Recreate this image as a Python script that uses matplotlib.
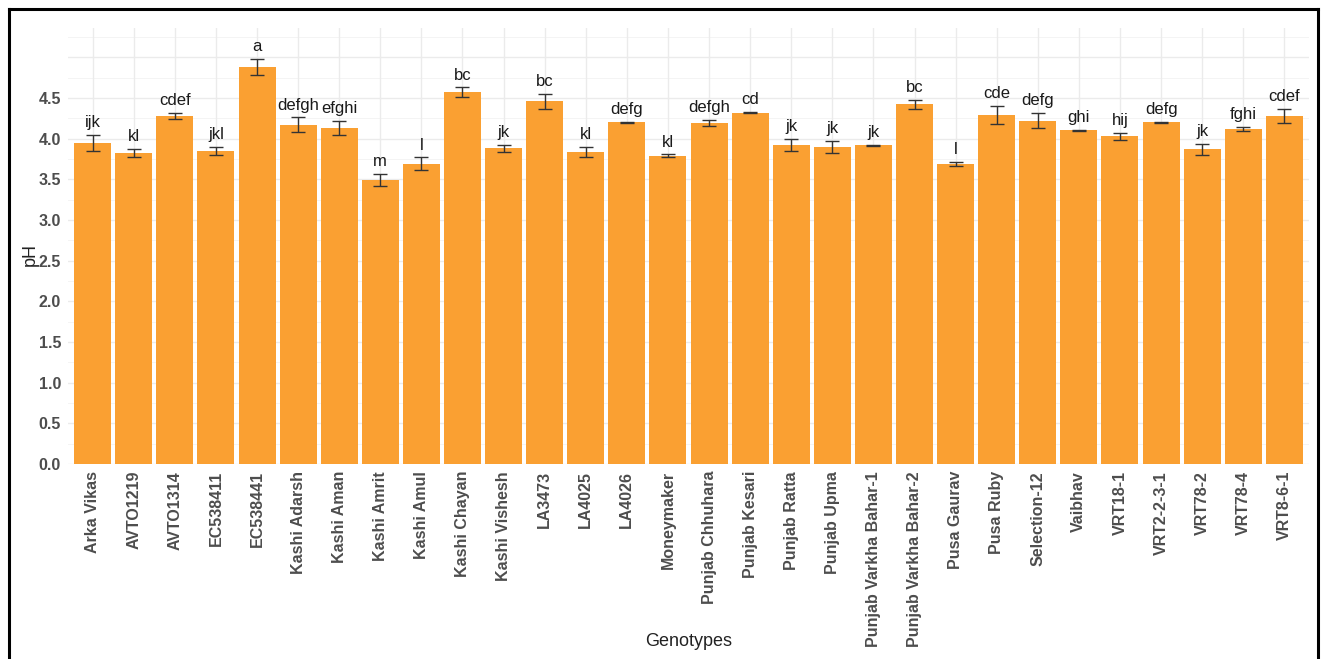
import matplotlib
matplotlib.use('Agg')
import matplotlib.pyplot as plt
from matplotlib.lines import Line2D
import numpy as np

plt.rcParams['font.family'] = ['Liberation Sans', 'DejaVu Sans']

genotypes = ['Arka Vikas', 'AVTO1219', 'AVTO1314', 'EC538411', 'EC538441',
             'Kashi Adarsh', 'Kashi Aman', 'Kashi Amrit', 'Kashi Amul',
             'Kashi Chayan', 'Kashi Vishesh', 'LA3473', 'LA4025', 'LA4026',
             'Moneymaker', 'Punjab Chhuhara', 'Punjab Kesari', 'Punjab Ratta',
             'Punjab Upma', 'Punjab Varkha Bahar-1', 'Punjab Varkha Bahar-2',
             'Pusa Gaurav', 'Pusa Ruby', 'Selection-12', 'Vaibhav', 'VRT18-1',
             'VRT2-2-3-1', 'VRT78-2', 'VRT78-4', 'VRT8-6-1']
ph_mean = [3.95, 3.82, 4.28, 3.85, 4.88, 4.17, 4.13, 3.49, 3.69,
           4.57, 3.88, 4.46, 3.84, 4.20, 3.79, 4.19, 4.32, 3.92,
           3.90, 3.92, 4.42, 3.69, 4.29, 4.22, 4.10, 4.03, 4.20,
           3.87, 4.12, 4.28]
ph_se = [0.10, 0.05, 0.04, 0.05, 0.10, 0.09, 0.085, 0.076, 0.078,
         0.06, 0.04, 0.09, 0.06, 0.01, 0.015, 0.037, 0.01, 0.074,
         0.076, 0.005, 0.057, 0.027, 0.11, 0.094, 0.005, 0.043, 0.004,
         0.066, 0.023, 0.084]
letters = ['ijk', 'kl', 'cdef', 'jkl', 'a', 'defgh', 'efghi', 'm', 'l',
           'bc', 'jk', 'bc', 'kl', 'defg', 'kl', 'defgh', 'cd', 'jk',
           'jk', 'jk', 'bc', 'l', 'cde', 'defg', 'ghi', 'hij', 'defg',
           'jk', 'fghi', 'cdef']

W, H = 1323, 659
fig = plt.figure(figsize=(W / 100, H / 100), dpi=100)
# panel in pixel coords: left 68, right 1309, top 28, bottom 464
ax = fig.add_axes([68 / W, 1 - 464 / H, (1309 - 68) / W, (464 - 28) / H])

x = np.arange(len(genotypes))
ax.set_axisbelow(True)
ax.bar(x, ph_mean, width=0.9, color='#FAA032', zorder=2)
ax.errorbar(x, ph_mean, yerr=ph_se, fmt='none', ecolor='#333333',
            elinewidth=1, capsize=4.7, capthick=1, zorder=3)
for xi, m, s, lab in zip(x, ph_mean, ph_se, letters):
    ax.annotate(lab, (xi, m + s), xytext=(0, 3.5), textcoords='offset points',
                ha='center', va='bottom', fontsize=12, color='#1a1a1a')

ax.set_xlim(-0.6, len(genotypes) - 0.4)
ax.set_ylim(0, 5.36)
ax.set_yticks(np.arange(0, 4.51, 0.5))
ax.set_yticklabels(['%.1f' % v for v in np.arange(0, 4.51, 0.5)])
ax.set_xticks(x)
ax.set_xticklabels(genotypes, rotation=90)

# grid (ggplot minimal style)
for v in np.arange(0, 5.01, 0.5):
    ax.axhline(v, color='#EBEBEB', lw=1.0, zorder=0)
for v in np.arange(0.25, 5.3, 0.5):
    ax.axhline(v, color='#F2F2F2', lw=0.6, zorder=0)
for xi in x:
    ax.axvline(xi, color='#EBEBEB', lw=1.0, zorder=0)

for sp in ax.spines.values():
    sp.set_visible(False)
ax.tick_params(length=0, labelsize=11.5, labelcolor='#4D4D4D')
ax.tick_params(axis='x', pad=5)
ax.tick_params(axis='y', pad=5)
for t in ax.get_xticklabels() + ax.get_yticklabels():
    t.set_fontweight('bold')

ax.set_xlabel('Genotypes', fontsize=13, color='#222222')
ax.xaxis.set_label_coords(0.5, -(642 - 464) / (464 - 28), transform=ax.transAxes)
ax.xaxis.label.set_va('center')
ax.set_ylabel('pH', fontsize=13, color='#222222')
ax.yaxis.set_label_coords(-(68 - 30) / (1309 - 68), 1 - (255 - 28) / (464 - 28))
ax.yaxis.label.set_va('center')

# black frame around the figure
lw = 2.2
fig.add_artist(Line2D([9 / W, 9 / W], [0, 1 - 9 / H], color='black', lw=lw))
fig.add_artist(Line2D([1318 / W, 1318 / W], [0, 1 - 9 / H], color='black', lw=lw))
fig.add_artist(Line2D([9 / W, 1318 / W], [1 - 9 / H, 1 - 9 / H], color='black', lw=lw))

fig.savefig('out.png', dpi=100)
